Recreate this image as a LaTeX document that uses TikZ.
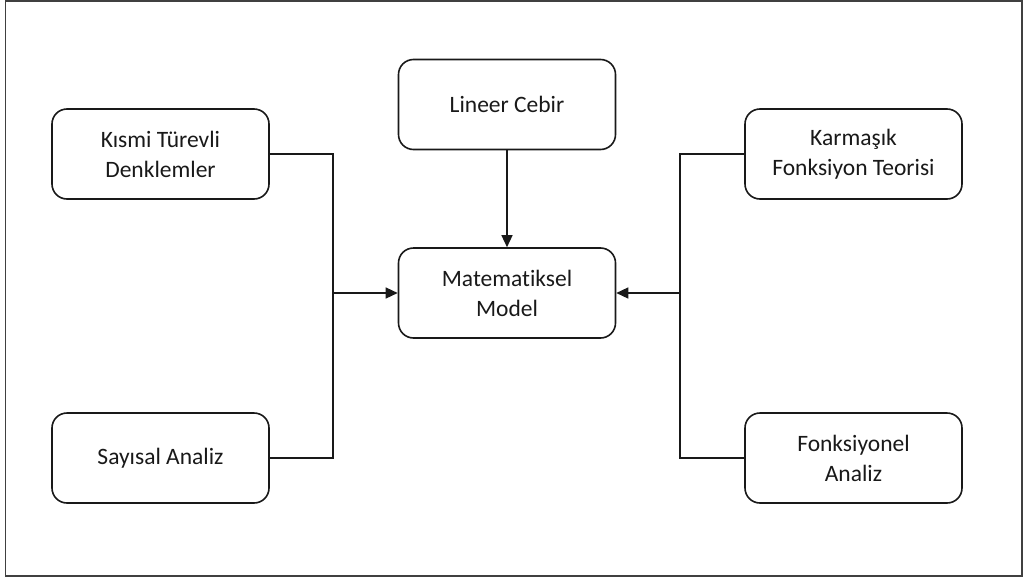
\documentclass[tikz,border=0pt]{standalone}
\usepackage{fontspec}
\setmainfont{Carlito}[RawFeature=-liga]
\usetikzlibrary{arrows.meta}
\begin{document}
\begin{tikzpicture}[x=1pt,y=-1pt,
  topic/.style={draw=black!90,line width=1.6pt,rounded corners=15pt,
    minimum width=217pt,minimum height=90pt,align=center,inner sep=0pt,
    font=\fontsize{23.5}{30}\selectfont,text=black!90},
  link/.style={draw=black!90,line width=1.4pt},
  flow/.style={link,-{Triangle[length=12pt,width=11pt]}}]
  \useasboundingbox (0,0) rectangle (1028,581);
  % outer frame
  \draw[draw=black!75,line width=1.6pt] (5.5,1) rectangle (1022,576);

  % topics
  \node[topic] (lc)  at (507,104.5) {Lineer Cebir};
  \node[topic] (mm)  at (507,293)   {Matematiksel\\Model};
  \node[topic] (ktd) at (160.5,154) {Kısmi Türevli\\Denklemler};
  \node[topic] (sa)  at (160.5,458) {Sayısal Analiz};
  \node[topic] (kft) at (853.5,154) {Karmaşık\\Fonksiyon Teorisi};
  \node[topic] (fa)  at (853.5,458) {Fonksiyonel\\Analiz};

  % junction points of the side brackets
  \coordinate (lj) at (333,293);
  \coordinate (rj) at (680,293);

  % connectors
  \draw[flow] (lc) -- (mm);
  \draw[link] (ktd.east) -| (lj) |- (sa.east);
  \draw[link] (kft.west) -| (rj) |- (fa.west);
  \draw[flow] (lj) -- (mm.west);
  \draw[flow] (rj) -- (mm.east);
\end{tikzpicture}
\end{document}
